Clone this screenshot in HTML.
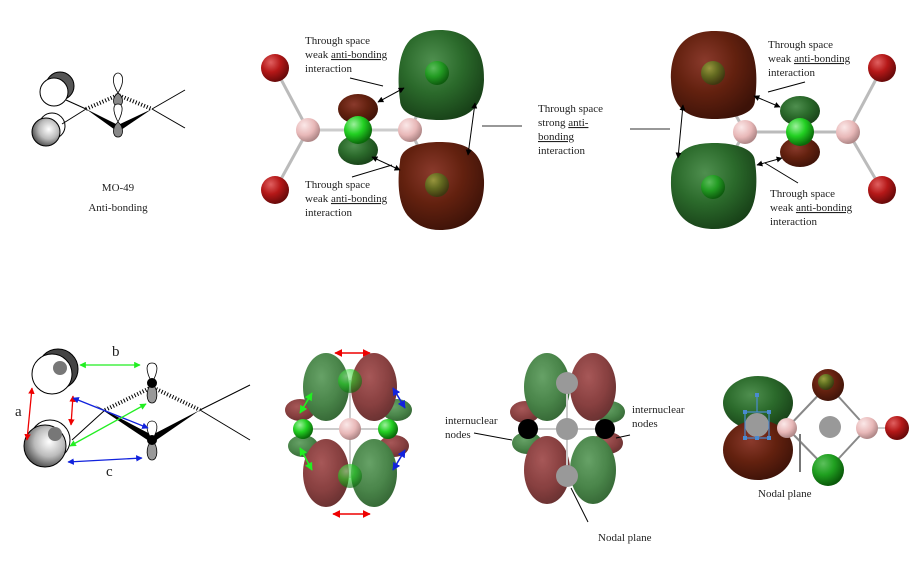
<!DOCTYPE html>
<html><head><meta charset="utf-8"><style>
html,body{margin:0;padding:0;background:#fff;width:921px;height:564px;overflow:hidden}
svg{display:block}
text{font-family:"Liberation Serif",serif;fill:#222}
</style></head><body>
<svg width="921" height="564" viewBox="0 0 921 564" xmlns="http://www.w3.org/2000/svg">
<defs>
<radialGradient id="gG" cx="0.4" cy="0.35" r="0.7"><stop offset="0" stop-color="#4f8f4f"/><stop offset="0.5" stop-color="#2b6a2b"/><stop offset="1" stop-color="#173f17"/></radialGradient>
<radialGradient id="gB" cx="0.4" cy="0.35" r="0.7"><stop offset="0" stop-color="#8a3a2c"/><stop offset="0.5" stop-color="#63210f"/><stop offset="1" stop-color="#3c1208"/></radialGradient>
<radialGradient id="gG2" cx="0.4" cy="0.35" r="0.7"><stop offset="0" stop-color="#5a9a5a"/><stop offset="0.6" stop-color="#3a7a3a"/><stop offset="1" stop-color="#245a24"/></radialGradient>
<radialGradient id="gB2" cx="0.4" cy="0.35" r="0.7"><stop offset="0" stop-color="#a04a4a"/><stop offset="0.6" stop-color="#7e3030"/><stop offset="1" stop-color="#5a1f1f"/></radialGradient>
<radialGradient id="aR" cx="0.35" cy="0.3" r="0.7"><stop offset="0" stop-color="#e06060"/><stop offset="0.5" stop-color="#b51818"/><stop offset="1" stop-color="#6a0a0a"/></radialGradient>
<radialGradient id="aP" cx="0.35" cy="0.3" r="0.7"><stop offset="0" stop-color="#fbe8e8"/><stop offset="0.6" stop-color="#e8b8b8"/><stop offset="1" stop-color="#b08888"/></radialGradient>
<radialGradient id="aG" cx="0.35" cy="0.3" r="0.7"><stop offset="0" stop-color="#9cf09c"/><stop offset="0.5" stop-color="#22d022"/><stop offset="1" stop-color="#0a6a0a"/></radialGradient>
<radialGradient id="aGd" cx="0.35" cy="0.3" r="0.7"><stop offset="0" stop-color="#5cc05c"/><stop offset="0.5" stop-color="#20a020"/><stop offset="1" stop-color="#0a5a0a"/></radialGradient>
<radialGradient id="aOl" cx="0.35" cy="0.3" r="0.7"><stop offset="0" stop-color="#9aa040"/><stop offset="0.5" stop-color="#607020"/><stop offset="1" stop-color="#3a3a10"/></radialGradient>
<radialGradient id="sph" cx="0.6" cy="0.4" r="0.7"><stop offset="0" stop-color="#fff"/><stop offset="0.5" stop-color="#bbb"/><stop offset="1" stop-color="#333"/></radialGradient>
<marker id="ak" viewBox="0 0 10 10" refX="9" refY="5" markerWidth="6" markerHeight="6" orient="auto-start-reverse"><path d="M0,0 L10,5 L0,10 z" fill="#000"/></marker>
<marker id="ar" viewBox="0 0 10 10" refX="9" refY="5" markerWidth="5" markerHeight="5" orient="auto-start-reverse"><path d="M0,0 L10,5 L0,10 z" fill="#e00"/></marker>
<marker id="ag" viewBox="0 0 10 10" refX="9" refY="5" markerWidth="5" markerHeight="5" orient="auto-start-reverse"><path d="M0,0 L10,5 L0,10 z" fill="#2e2"/></marker>
<marker id="ab" viewBox="0 0 10 10" refX="9" refY="5" markerWidth="5" markerHeight="5" orient="auto-start-reverse"><path d="M0,0 L10,5 L0,10 z" fill="#12d"/></marker>
</defs>

<!-- TOP LEFT MO-49 -->
<g stroke="#000" stroke-width="1">
<circle cx="60" cy="86" r="14" fill="#555"/>
<circle cx="54" cy="92" r="14" fill="#fff"/>
<circle cx="52" cy="126" r="13" fill="#fff"/>
<circle cx="46" cy="132" r="14" fill="url(#sph)"/>
<line x1="66" y1="100" x2="86" y2="109"/>
<line x1="62" y1="124" x2="86" y2="109"/>
<line x1="152" y1="109" x2="185" y2="90"/>
<line x1="152" y1="109" x2="185" y2="128"/>
</g>
<polygon points="86,109 118,132 152,109 118,125" fill="#000"/>
<path d="M86,109 L118,95 L152,109" stroke="#000" stroke-width="4" fill="none" stroke-dasharray="1,2"/>
<g stroke="#000" stroke-width="0.8">
<path d="M118,93 C110,80 114,73 118,73 C122,73 126,80 118,93z" fill="#fff"/>
<path d="M118,93 C112,97 112,106 118,106 C124,106 124,97 118,93z" fill="#888"/>
<path d="M118,122 C112,110 113,104 118,104 C123,104 124,110 118,122z" fill="#fff"/>
<path d="M118,122 C112,127 112,137 118,137 C124,137 124,127 118,122z" fill="#888"/>
</g>
<text x="118" y="191" font-size="11" text-anchor="middle">MO-49</text>
<text x="118" y="211" font-size="11" text-anchor="middle">Anti-bonding</text>

<!-- TOP MIDDLE -->
<g stroke="#bbb" stroke-width="3">
<line x1="275" y1="68" x2="308" y2="130"/><line x1="275" y1="190" x2="308" y2="130"/>
<line x1="308" y1="130" x2="410" y2="130"/><line x1="410" y1="130" x2="437" y2="73"/><line x1="410" y1="130" x2="437" y2="185"/>
</g>
<path d="M440,30 C470,30 485,50 484,80 C483,110 465,120 440,120 C420,120 400,115 400,100 C398,85 396,55 410,40 C418,33 428,30 440,30z" fill="url(#gG)"/>
<path d="M440,230 C470,230 485,210 484,180 C483,150 465,142 440,142 C420,142 400,147 400,162 C398,175 396,205 410,218 C418,226 428,230 440,230z" fill="url(#gB)"/>
<circle cx="437" cy="73" r="12" fill="url(#aGd)" opacity="0.9"/>
<circle cx="437" cy="185" r="12" fill="url(#aOl)" opacity="0.9"/>
<circle cx="275" cy="68" r="14" fill="url(#aR)"/>
<circle cx="275" cy="190" r="14" fill="url(#aR)"/>
<ellipse cx="358" cy="109" rx="20" ry="15" fill="url(#gB)"/>
<ellipse cx="358" cy="150" rx="20" ry="15" fill="url(#gG)"/>
<circle cx="308" cy="130" r="12" fill="url(#aP)"/>
<circle cx="410" cy="130" r="12" fill="url(#aP)"/>
<line x1="320" y1="130" x2="398" y2="130" stroke="#ccc" stroke-width="3"/>
<circle cx="358" cy="130" r="14" fill="url(#aG)"/>
<g stroke="#000" stroke-width="1">
<line x1="378" y1="102" x2="404" y2="88" marker-start="url(#ak)" marker-end="url(#ak)"/>
<line x1="372" y1="157" x2="400" y2="170" marker-start="url(#ak)" marker-end="url(#ak)"/>
<line x1="475" y1="103" x2="468" y2="155" marker-start="url(#ak)" marker-end="url(#ak)"/>
<line x1="350" y1="78" x2="383" y2="86"/>
<line x1="352" y1="177" x2="392" y2="165"/>
</g>
<g font-size="11">
<text x="305" y="44">Through space</text>
<text x="305" y="58">weak <tspan text-decoration="underline">anti-bonding</tspan></text>
<text x="305" y="72">interaction</text>
<text x="305" y="188">Through space</text>
<text x="305" y="202">weak <tspan text-decoration="underline">anti-bonding</tspan></text>
<text x="305" y="216">interaction</text>
<text x="538" y="112">Through space</text>
<text x="538" y="126">strong <tspan text-decoration="underline">anti-</tspan></text>
<text x="538" y="140" text-decoration="underline">bonding</text>
<text x="538" y="154">interaction</text>
<text x="768" y="48">Through space</text>
<text x="768" y="62">weak <tspan text-decoration="underline">anti-bonding</tspan></text>
<text x="768" y="76">interaction</text>
<text x="770" y="197">Through space</text>
<text x="770" y="211">weak <tspan text-decoration="underline">anti-bonding</tspan></text>
<text x="770" y="225">interaction</text>
</g>
<line x1="482" y1="126" x2="522" y2="126" stroke="#777" stroke-width="1.5"/>
<line x1="630" y1="129" x2="670" y2="129" stroke="#777" stroke-width="1.5"/>

<!-- TOP RIGHT -->
<g stroke="#bbb" stroke-width="3">
<line x1="882" y1="68" x2="848" y2="132"/><line x1="882" y1="190" x2="848" y2="132"/>
<line x1="745" y1="132" x2="848" y2="132"/><line x1="745" y1="132" x2="713" y2="73"/><line x1="745" y1="132" x2="713" y2="187"/>
</g>
<path d="M714,31 C684,31 670,50 671,80 C672,110 690,119 714,119 C734,119 755,114 755,100 C757,85 759,55 745,40 C737,33 727,31 714,31z" fill="url(#gB)"/>
<path d="M714,229 C684,229 670,210 671,180 C672,150 690,143 714,143 C734,143 755,148 755,162 C757,175 759,205 745,218 C737,225 727,229 714,229z" fill="url(#gG)"/>
<circle cx="713" cy="73" r="12" fill="url(#aOl)" opacity="0.9"/>
<circle cx="713" cy="187" r="12" fill="url(#aGd)" opacity="0.9"/>
<circle cx="882" cy="68" r="14" fill="url(#aR)"/>
<circle cx="882" cy="190" r="14" fill="url(#aR)"/>
<ellipse cx="800" cy="111" rx="20" ry="15" fill="url(#gG)"/>
<ellipse cx="800" cy="152" rx="20" ry="15" fill="url(#gB)"/>
<circle cx="745" cy="132" r="12" fill="url(#aP)"/>
<circle cx="848" cy="132" r="12" fill="url(#aP)"/>
<circle cx="800" cy="132" r="14" fill="url(#aG)"/>
<g stroke="#000" stroke-width="1">
<line x1="754" y1="96" x2="780" y2="107" marker-start="url(#ak)" marker-end="url(#ak)"/>
<line x1="757" y1="165" x2="782" y2="158" marker-start="url(#ak)" marker-end="url(#ak)"/>
<line x1="683" y1="105" x2="678" y2="158" marker-start="url(#ak)" marker-end="url(#ak)"/>
<line x1="768" y1="92" x2="805" y2="82"/>
<line x1="765" y1="163" x2="798" y2="183"/>
</g>

<!-- BOTTOM LEFT -->
<g stroke="#000" stroke-width="1">
<circle cx="58" cy="369" r="20" fill="#444"/>
<circle cx="52" cy="374" r="20" fill="#fff"/>
<circle cx="50" cy="440" r="20" fill="#fff"/>
<circle cx="45" cy="446" r="21" fill="url(#sph)"/>
<line x1="72" y1="440" x2="105" y2="410"/>
<line x1="200" y1="410" x2="250" y2="385"/>
<line x1="200" y1="410" x2="250" y2="440"/>
</g>
<circle cx="60" cy="368" r="7" fill="#777"/>
<circle cx="55" cy="434" r="7" fill="#777"/>
<polygon points="95,405 152,443 200,410 152,435" fill="#000"/>
<path d="M105,410 L152,387 L200,410" stroke="#000" stroke-width="4" fill="none" stroke-dasharray="1,2"/>
<g stroke="#000" stroke-width="0.8">
<path d="M152,383 C144,368 147,363 152,363 C157,363 160,368 152,383z" fill="#fff"/>
<path d="M152,383 C145,390 146,403 152,403 C158,403 159,390 152,383z" fill="#999"/>
<path d="M152,440 C144,428 147,421 152,421 C157,421 160,428 152,440z" fill="#fff"/>
<path d="M152,440 C145,447 146,460 152,460 C158,460 159,447 152,440z" fill="#999"/>
</g>
<circle cx="152" cy="383" r="5" fill="#000"/>
<circle cx="152" cy="440" r="5" fill="#000"/>
<g stroke-width="1.3">
<line x1="80" y1="365" x2="140" y2="365" stroke="#2e2" marker-start="url(#ag)" marker-end="url(#ag)"/>
<line x1="32" y1="388" x2="27" y2="440" stroke="#e00" marker-start="url(#ar)" marker-end="url(#ar)"/>
<line x1="73" y1="396" x2="71" y2="425" stroke="#e00" marker-start="url(#ar)" marker-end="url(#ar)"/>
<line x1="73" y1="398" x2="148" y2="428" stroke="#12d" marker-start="url(#ab)" marker-end="url(#ab)"/>
<line x1="70" y1="446" x2="146" y2="404" stroke="#2e2" marker-start="url(#ag)" marker-end="url(#ag)"/>
<line x1="68" y1="462" x2="142" y2="458" stroke="#12d" marker-start="url(#ab)" marker-end="url(#ab)"/>
</g>
<text x="112" y="356" font-size="15">b</text>
<text x="15" y="416" font-size="15">a</text>
<text x="106" y="476" font-size="15">c</text>

<!-- BOTTOM MIDDLE 1 -->
<g opacity="0.92">
<ellipse cx="300" cy="410" rx="15" ry="11" fill="url(#gB2)"/>
<ellipse cx="303" cy="446" rx="15" ry="11" fill="url(#gG2)"/>
<ellipse cx="397" cy="410" rx="15" ry="11" fill="url(#gG2)"/>
<ellipse cx="394" cy="446" rx="15" ry="11" fill="url(#gB2)"/>
<ellipse cx="326" cy="387" rx="23" ry="34" fill="url(#gG2)"/>
<ellipse cx="374" cy="387" rx="23" ry="34" fill="url(#gB2)"/>
<ellipse cx="326" cy="473" rx="23" ry="34" fill="url(#gB2)"/>
<ellipse cx="374" cy="473" rx="23" ry="34" fill="url(#gG2)"/>
</g>
<line x1="350" y1="380" x2="350" y2="478" stroke="#ccc" stroke-width="2"/>
<line x1="303" y1="429" x2="398" y2="429" stroke="#ccc" stroke-width="2"/>
<circle cx="350" cy="381" r="12" fill="url(#aG)" opacity="0.6"/>
<circle cx="350" cy="476" r="12" fill="url(#aG)" opacity="0.6"/>
<circle cx="303" cy="429" r="10" fill="url(#aG)"/>
<circle cx="388" cy="429" r="10" fill="url(#aG)"/>
<circle cx="350" cy="429" r="11" fill="url(#aP)"/>
<g stroke-width="1.6">
<line x1="335" y1="353" x2="370" y2="353" stroke="#e00" marker-start="url(#ar)" marker-end="url(#ar)"/>
<line x1="333" y1="514" x2="370" y2="514" stroke="#e00" marker-start="url(#ar)" marker-end="url(#ar)"/>
<line x1="300" y1="413" x2="312" y2="393" stroke="#2e2" marker-start="url(#ag)" marker-end="url(#ag)"/>
<line x1="300" y1="448" x2="312" y2="470" stroke="#2e2" marker-start="url(#ag)" marker-end="url(#ag)"/>
<line x1="393" y1="388" x2="405" y2="408" stroke="#12d" marker-start="url(#ab)" marker-end="url(#ab)"/>
<line x1="393" y1="470" x2="405" y2="450" stroke="#12d" marker-start="url(#ab)" marker-end="url(#ab)"/>
</g>

<!-- BOTTOM MIDDLE 2 -->
<g opacity="0.92">
<ellipse cx="525" cy="412" rx="15" ry="11" fill="url(#gB2)"/>
<ellipse cx="527" cy="443" rx="15" ry="11" fill="url(#gG2)"/>
<ellipse cx="610" cy="412" rx="15" ry="11" fill="url(#gG2)"/>
<ellipse cx="608" cy="443" rx="15" ry="11" fill="url(#gB2)"/>
<ellipse cx="547" cy="387" rx="23" ry="34" fill="url(#gG2)"/>
<ellipse cx="593" cy="387" rx="23" ry="34" fill="url(#gB2)"/>
<ellipse cx="547" cy="470" rx="23" ry="34" fill="url(#gB2)"/>
<ellipse cx="593" cy="470" rx="23" ry="34" fill="url(#gG2)"/>
</g>
<line x1="567" y1="383" x2="567" y2="475" stroke="#ccc" stroke-width="2"/>
<line x1="528" y1="429" x2="605" y2="429" stroke="#ccc" stroke-width="2"/>
<circle cx="567" cy="383" r="11" fill="#999"/>
<circle cx="567" cy="429" r="11" fill="#999"/>
<circle cx="567" cy="476" r="11" fill="#999"/>
<circle cx="528" cy="429" r="10" fill="#000"/>
<circle cx="605" cy="429" r="10" fill="#000"/>
<g stroke="#000" stroke-width="1">
<line x1="474" y1="433" x2="512" y2="440"/>
<line x1="630" y1="435" x2="616" y2="438"/>
<line x1="571" y1="488" x2="588" y2="522"/>
</g>
<g font-size="11">
<text x="445" y="424">internuclear</text>
<text x="445" y="438">nodes</text>
<text x="632" y="413">internuclear</text>
<text x="632" y="427">nodes</text>
<text x="598" y="541">Nodal plane</text>
<text x="758" y="497">Nodal plane</text>
</g>

<!-- BOTTOM RIGHT -->
<g stroke="#888" stroke-width="2">
<line x1="787" y1="428" x2="828" y2="385"/><line x1="787" y1="428" x2="828" y2="470"/>
<line x1="828" y1="385" x2="867" y2="428"/><line x1="828" y1="470" x2="867" y2="428"/>
<line x1="867" y1="428" x2="897" y2="428" stroke="#ccc"/>
</g>
<ellipse cx="758" cy="403" rx="35" ry="27" fill="url(#gG)"/>
<ellipse cx="758" cy="450" rx="35" ry="30" fill="url(#gB)"/>
<circle cx="787" cy="428" r="10" fill="url(#aP)"/>
<circle cx="828" cy="385" r="16" fill="url(#gB)"/>
<circle cx="826" cy="382" r="8" fill="url(#aOl)"/>
<circle cx="828" cy="470" r="16" fill="url(#aGd)"/>
<circle cx="830" cy="427" r="11" fill="#999"/>
<circle cx="867" cy="428" r="11" fill="url(#aP)"/>
<circle cx="897" cy="428" r="12" fill="url(#aR)"/>
<circle cx="757" cy="425" r="12" fill="#999"/>
<g stroke="#4a8ad0" stroke-width="1.2" fill="none">
<rect x="745" y="412" width="24" height="26"/>
<line x1="757" y1="412" x2="757" y2="395"/>
</g>
<g fill="#4a8ad0">
<rect x="755" y="393" width="4" height="4"/><rect x="743" y="410" width="4" height="4"/><rect x="767" y="410" width="4" height="4"/>
<rect x="743" y="436" width="4" height="4"/><rect x="767" y="436" width="4" height="4"/><rect x="755" y="436" width="4" height="4"/>
</g>
<line x1="800" y1="434" x2="800" y2="472" stroke="#777" stroke-width="2"/>
</svg>
</body></html>
